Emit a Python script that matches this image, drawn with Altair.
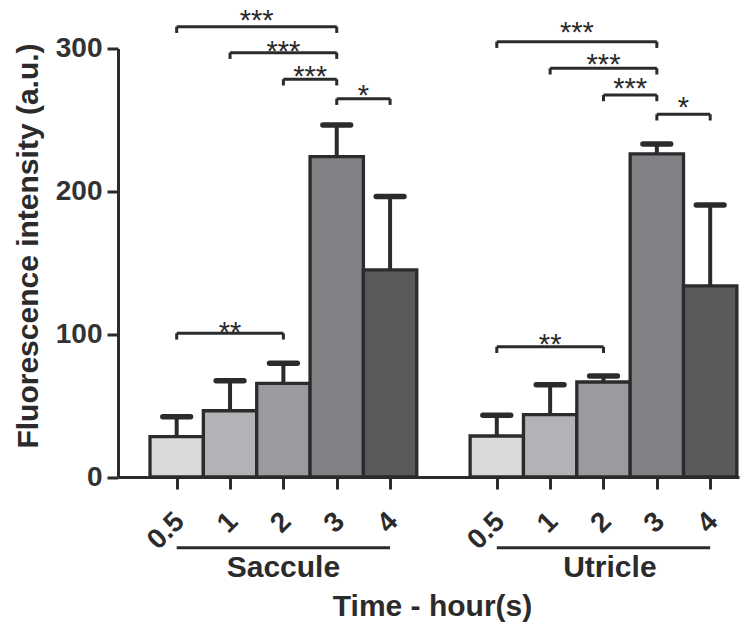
import altair as alt
import pandas as pd

# ---- data ----
categories = ["0.5", "1", "2", "3", "4"]
groups = ["Saccule", "Utricle"]
saccule_mean = [28.2, 46.4, 65.6, 224.3, 145.0]
saccule_sem = [14.0, 21.0, 14.0, 22.2, 51.3]
utricle_mean = [28.7, 43.6, 66.5, 226.2, 133.8]
utricle_sem = [14.5, 21.0, 4.2, 7.0, 56.7]
bar_colors = ["#d9dadc", "#b2b3b6", "#9a9b9e", "#808185", "#5a5a5d"]

# significance brackets: (group, from category idx, to category idx, label)
bracket_group = ["Saccule"] * 5 + ["Utricle"] * 5
bracket_from = [0, 1, 2, 3, 0, 0, 1, 2, 3, 0]
bracket_to = [3, 3, 3, 4, 2, 3, 3, 3, 4, 2]
bracket_label = ["***", "***", "***", "*", "**", "***", "***", "***", "*", "**"]
bracket_level = [315.3, 297.1, 278.5, 264.9, 100.6, 304.8, 286.2, 267.5, 254.0, 91.2]
label_level = [324.7, 303.2, 285.7, 272.4, 106.4, 316.5, 294.3, 277.3, 264.0, 98.2]

FONT = "Liberation Sans"
INK = "#2b2b2b"
GROUP_OFFSET = 6
DROP = 4.4
CAP = 0.26

# ---- tables ----
rows = []
for gi, (g, means, sems) in enumerate(zip(groups, [saccule_mean, utricle_mean], [saccule_sem, utricle_sem])):
    for i, c in enumerate(categories):
        pos = gi * GROUP_OFFSET + i
        rows.append(dict(group=g, cat=c, pos=pos, x0=pos - 0.5, x1=pos + 0.5,
                         zero=0.0, mean=means[i], upper=means[i] + sems[i],
                         capl=pos - CAP, capr=pos + CAP))
bars = pd.DataFrame(rows)

seg = []
stars = []
for g, a, b, lab, lev, ll in zip(bracket_group, bracket_from, bracket_to, bracket_label, bracket_level, label_level):
    off = groups.index(g) * GROUP_OFFSET
    xa, xb = a + off, b + off
    seg.append(dict(x=xa, x2=xb, y=lev, y2=lev))
    seg.append(dict(x=xa, x2=xa, y=lev, y2=lev - DROP))
    seg.append(dict(x=xb, x2=xb, y=lev, y2=lev - DROP))
    stars.append(dict(x=(xa + xb) / 2, y=ll, label=lab))
seg = pd.DataFrame(seg)
stars = pd.DataFrame(stars)

under = pd.DataFrame([dict(x=gi * GROUP_OFFSET, x2=gi * GROUP_OFFSET + len(categories) - 1, y=-49.5)
                      for gi in range(len(groups))])
glabels = pd.DataFrame([dict(x=2.0, y=-69.8, label=groups[0]),
                        dict(x=8.12, y=-69.8, label=groups[1])])

tick_vals = [gi * GROUP_OFFSET + i for gi in range(len(groups)) for i in range(len(categories))]
label_list = []
for v in range(max(tick_vals) + 1):
    label_list.append(categories[v % GROUP_OFFSET] if v % GROUP_OFFSET < len(categories) else "")
label_expr = "[" + ",".join("'" + s + "'" for s in label_list) + "][datum.value]"

xscale = alt.Scale(domain=[-1.1, 10.54], nice=False, zero=False)
yscale = alt.Scale(domain=[0, 300], nice=False)

xaxis = alt.Axis(values=tick_vals, labelExpr=label_expr, grid=False,
                 title="Time - hour(s)", titleFont=FONT, titleFontSize=30, titleFontWeight="bold",
                 titleColor=INK, titleX=314, titleY=138, titleBaseline="alphabetic", titleAlign="center",
                 labelFont=FONT, labelFontSize=28, labelFontWeight="bold", labelColor=INK,
                 labelAngle=-45, labelAlign="right", labelBaseline="middle", labelPadding=28, labelOffset=3,
                 tickSize=12, tickWidth=3, tickColor=INK, domainWidth=3, domainColor=INK,
                 labelOverlap=False, labelFlush=False)
yaxis = alt.Axis(values=[0, 100, 200, 300], grid=False,
                 title="Fluorescence intensity (a.u.)", titleFont=FONT, titleFontSize=30,
                 titleFontWeight="bold", titleColor=INK, titleAngle=270, titleX=-81, titleY=197,
                 titleBaseline="alphabetic", titleAlign="center",
                 labelFont=FONT, labelFontSize=28, labelFontWeight="bold", labelColor="#333333",
                 labelPadding=5, tickSize=11, tickWidth=3, tickColor=INK, domainWidth=3, domainColor=INK)


def X(f):
    return alt.X(f, type="quantitative", scale=xscale, axis=xaxis)


def Y(f):
    return alt.Y(f, type="quantitative", scale=yscale, axis=yaxis)


stem = alt.Chart(bars).mark_rule(color=INK, strokeWidth=4).encode(x=X("pos"), y=Y("mean"), y2="upper")
cap = alt.Chart(bars).mark_rule(color=INK, strokeWidth=5.5, strokeCap="round").encode(
    x=X("capl"), x2="capr", y=Y("upper"))
barl = alt.Chart(bars).mark_bar(stroke=INK, strokeWidth=3.3).encode(
    x=X("x0"), x2="x1", y=Y("mean"), y2="zero",
    fill=alt.Fill("cat:N", scale=alt.Scale(domain=categories, range=bar_colors), legend=None))
brk = alt.Chart(seg).mark_rule(color=INK, strokeWidth=3).encode(x=X("x"), x2="x2", y=Y("y"), y2="y2")
st = alt.Chart(stars).mark_text(font=FONT, fontSize=29, color=INK, baseline="alphabetic", dy=17).encode(
    x=X("x"), y=Y("y"), text="label")
ul = alt.Chart(under).mark_rule(color=INK, strokeWidth=3).encode(x=X("x"), x2="x2", y=Y("y"))
gl = alt.Chart(glabels).mark_text(font=FONT, fontSize=30, fontWeight="bold", color=INK,
                                  baseline="alphabetic").encode(x=X("x"), y=Y("y"), text="label")

chart = alt.layer(stem, cap, barl, brk, st, ul, gl).properties(
    width=621, height=428.5,
    autosize=alt.AutoSizeParams(type="none"),
    padding={"left": 118, "top": 48.5, "right": 16, "bottom": 147},
    background="white",
).configure_view(stroke=None)

chart.save("out.html", embed_options={"renderer": "svg", "actions": False})
